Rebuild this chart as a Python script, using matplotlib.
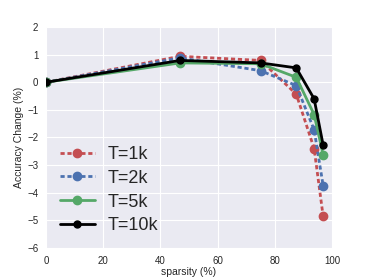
import numpy as np
import matplotlib
matplotlib.use("Agg")
import matplotlib.pyplot as plt
import seaborn as sns

#%% data
sparsity = [0, 46.9, 75.0, 87.5, 93.75, 96.9]
acc_1k = [0, 0.94, 0.79, -0.43, -2.40, -4.85]
acc_2k = [0, 0.88, 0.42, -0.12, -1.72, -3.74]
acc_5k = [0, 0.70, 0.67, 0.18, -1.17, -2.62]
acc_10k = [0, 0.79, 0.70, 0.52, -0.60, -2.27]
labels = ["T=1k", "T=2k", "T=5k", "T=10k"]

#%% style
sns.set_style("darkgrid")
plt.rcParams['font.family'] = ['Liberation Sans', 'DejaVu Sans']
plt.rcParams['axes.facecolor'] = '#EAEAF2'

fig = plt.figure(figsize=(3.69, 2.77), dpi=100)
ax = fig.add_axes([46/369, 1 - 248/277, (332-46)/369, (248-27)/277])

red = '#C44E52'
blue = '#4C72B0'
green = '#55A868'

ax.plot(sparsity, acc_1k, color=red, lw=2, dashes=(1.5, 1), marker='o', ms=6, label=labels[0])
ax.plot(sparsity, acc_2k, color=blue, lw=2, dashes=(1.5, 1), marker='o', ms=6, label=labels[1])
ax.plot(sparsity, acc_5k, color=green, lw=2, marker='o', ms=6, label=labels[2])
ax.plot(sparsity, acc_10k, color='black', lw=2, marker='o', ms=5, label=labels[3])

ax.set_xlim(0, 100)
ax.set_ylim(-6, 2)
ax.set_xticks(np.arange(0, 101, 20))
ax.set_yticks(np.arange(-6, 3, 1))
ax.tick_params(labelsize=7, pad=2, colors='#262626')
ax.set_xlabel("sparsity (%)", fontsize=7.5, labelpad=1)
ax.set_ylabel("Accuracy Change (%)", fontsize=7.5, labelpad=2)
ax.grid(color='white', lw=0.8)
for s in ax.spines.values():
    s.set_visible(False)

ax.legend(loc='lower left', fontsize=13, frameon=False, handlelength=1.95,
          handletextpad=0.7, labelspacing=0.38, borderaxespad=0.35,
          bbox_to_anchor=(0.0, 0.0))

fig.savefig("out.png", dpi=100)
